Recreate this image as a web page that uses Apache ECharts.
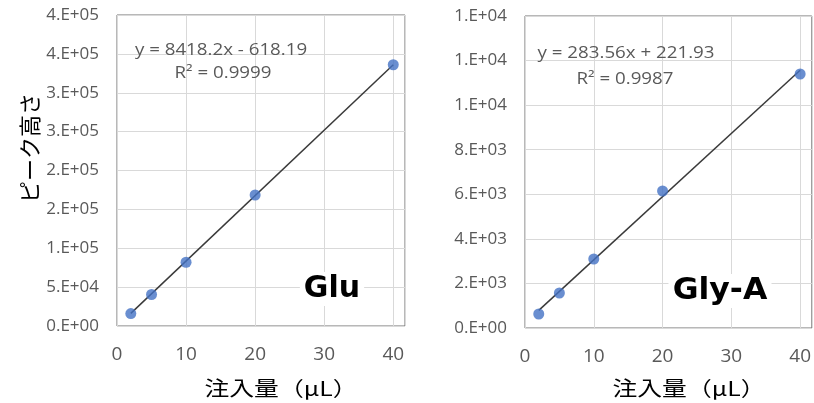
<!DOCTYPE html>
<html>
<head>
<meta charset="utf-8">
<script src="https://cdn.jsdelivr.net/npm/echarts@6/dist/echarts.min.js"></script>
<style>
  html, body { margin: 0; padding: 0; background: #fff; }
  #chart { width: 814px; height: 403px; }
</style>
</head>
<body>
<div id="chart"></div>
<script>
// Injection volumes (µL) shared by both calibration curves
const volumes = [2, 5, 10, 20, 40];

// Peak heights measured for each compound
const gluHeights = [16000, 40500, 82000, 168500, 336000];
const glyHeights = [628, 1570, 3096, 6147, 11397];

// Linear fits reported for each curve
const gluFit = { slope: 8418.2, intercept: -618.19, r2: '0.9999' };
const glyFit = { slope: 283.56, intercept: 221.93, r2: '0.9987' };

// Tick labels as printed on each value axis
const gluTickLabels = ['0.E+00', '5.E+04', '1.E+05', '2.E+05', '2.E+05', '3.E+05', '3.E+05', '4.E+05', '4.E+05'];
const glyTickLabels = ['0.E+00', '2.E+03', '4.E+03', '6.E+03', '8.E+03', '1.E+04', '1.E+04', '1.E+04'];
const xTickLabels = ['0', '10', '20', '30', '40'];

const xTitle = '注入量（μL）';
const yTitle = 'ピーク高さ';

const gluStep = 50000;
const glyStep = 2000;
const xStep = 10;

const chart = echarts.init(document.getElementById('chart'), null, { renderer: 'canvas' });

const grey = '#595959';
const numFont = '"Open Sans", "Liberation Sans", sans-serif';
const jpFont = '"Noto Sans CJK JP", sans-serif';
const boldFont = 'bold 30px "DejaVu Sans", sans-serif';

function pairs(xs, ys) { return xs.map((x, i) => [x, ys[i]]); }
function fitLine(fit) {
  const x0 = volumes[0], x1 = volumes[volumes.length - 1];
  return [[x0, fit.slope * x0 + fit.intercept], [x1, fit.slope * x1 + fit.intercept]];
}
function fmtEq(fit) {
  const sign = fit.intercept < 0 ? ' - ' : ' + ';
  return 'y = ' + fit.slope + 'x' + sign + Math.abs(fit.intercept);
}

function xAxis(idx) {
  return {
    gridIndex: idx, type: 'value', min: 0, max: 41.7, interval: xStep,
    axisLine: { show: false }, axisTick: { show: false },
    splitLine: { show: true, lineStyle: { color: '#d9d9d9', width: 1 } },
    axisLabel: {
      color: grey, fontSize: 19, fontFamily: numFont, margin: 19,
      showMaxLabel: false,
      formatter: v => (v % xStep === 0 ? xTickLabels[v / xStep] : '')
    }
  };
}
function yAxis(idx, max, step, labels) {
  return {
    gridIndex: idx, type: 'value', min: 0, max: max, interval: step,
    axisLine: { show: false }, axisTick: { show: false },
    splitLine: { show: true, lineStyle: { color: '#d9d9d9', width: 1 } },
    axisLabel: {
      color: grey, fontSize: 17, fontFamily: numFont, margin: 18,
      formatter: v => labels[Math.round(v / step)]
    }
  };
}
function scatter(idx, data) {
  return {
    type: 'scatter', xAxisIndex: idx, yAxisIndex: idx, data: data,
    symbolSize: 11, itemStyle: { color: '#4472C4' }, z: 3
  };
}
function trend(idx, data) {
  return {
    type: 'line', xAxisIndex: idx, yAxisIndex: idx, data: data,
    symbol: 'none', lineStyle: { color: '#3a3a3a', width: 1.5 }, z: 2
  };
}
function note(x, y, text, font, fill, opts) {
  opts = opts || {};
  const style = { text: text, fill: fill, font: font, align: 'center', verticalAlign: 'middle' };
  if (opts.boxed) { style.backgroundColor = '#fff'; style.padding = [2, 4]; }
  return {
    type: 'text', x: x, y: y, z: 100,
    scaleX: opts.sx || 1, rotation: opts.rot || 0, style: style
  };
}

const eqFont = '16px ' + numFont;

chart.setOption({
  animation: false,
  backgroundColor: '#fff',
  grid: [
    { left: 117, top: 15, width: 288, height: 311, show: true, borderColor: '#707070', borderWidth: 1 },
    { left: 525, top: 16, width: 287, height: 312, show: true, borderColor: '#707070', borderWidth: 1 }
  ],
  xAxis: [xAxis(0), xAxis(1)],
  yAxis: [
    yAxis(0, gluStep * (gluTickLabels.length - 1), gluStep, gluTickLabels),
    yAxis(1, glyStep * (glyTickLabels.length - 1), glyStep, glyTickLabels)
  ],
  series: [
    trend(0, fitLine(gluFit)), scatter(0, pairs(volumes, gluHeights)),
    trend(1, fitLine(glyFit)), scatter(1, pairs(volumes, glyHeights))
  ],
  graphic: [
    note(30, 148, yTitle, '22px ' + jpFont, '#000', { rot: Math.PI / 2 }),
    note(281, 388, xTitle, '20px ' + jpFont, '#000', { sx: 1.24 }),
    note(689, 388, xTitle, '20px ' + jpFont, '#000', { sx: 1.24 }),
    note(221, 50, fmtEq(gluFit), eqFont, grey, { sx: 1.17 }),
    note(223, 73, 'R² = ' + gluFit.r2, eqFont, grey, { sx: 1.17 }),
    note(626, 53, fmtEq(glyFit), eqFont, grey, { sx: 1.17 }),
    note(625, 79, 'R² = ' + glyFit.r2, eqFont, grey, { sx: 1.17 }),
    note(332, 289, 'Glu', boldFont, '#000', { boxed: true }),
    note(720, 291, 'Gly-A', boldFont, '#000', { boxed: true, sx: 1.05 })
  ]
});
</script>
</body>
</html>
